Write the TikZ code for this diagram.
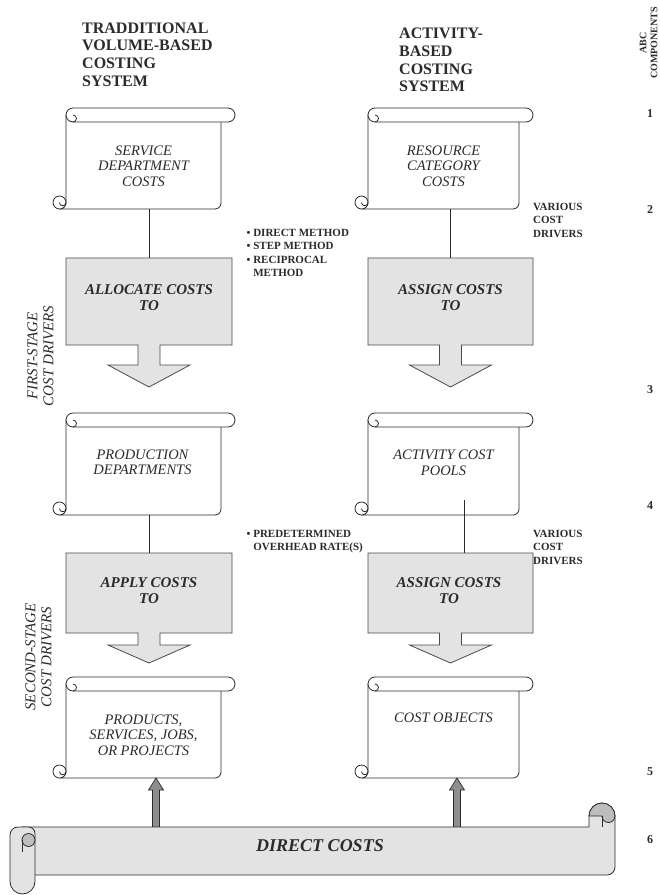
\documentclass[tikz,border=0pt]{standalone}
\usepackage{fontspec}
\setmainfont{Liberation Serif}
\usetikzlibrary{calc}
\definecolor{ink}{HTML}{2B2B2B}
\definecolor{boxfill}{HTML}{E3E3E3}
\definecolor{curlfill}{HTML}{BDBDBD}
\definecolor{upfill}{HTML}{8E8E8E}
\tikzset{
 scrl/.style={draw=ink, line width=0.8pt, fill=white, line join=round},
 ban/.style={draw=ink, line width=0.8pt, fill=boxfill, line join=round},
 callout/.style={draw=ink!85, line width=0.8pt, fill=boxfill, line join=miter},
 conn/.style={draw=ink, line width=0.8pt},
 scrolltext/.style={font=\fontsize{14.5}{15.5}\selectfont\itshape, align=center, text=ink, inner sep=0pt},
 boxtext/.style={font=\fontsize{15}{15.5}\selectfont\bfseries\itshape, align=center, text=ink, inner sep=0pt},
 header/.style={font=\fontsize{16}{17.7}\selectfont\bfseries, align=left, anchor=north west, inner sep=0pt, text=ink},
 note/.style={font=\fontsize{11}{13.5}\selectfont\bfseries, align=left, anchor=north west, inner sep=0pt, text=ink},
 num/.style={font=\fontsize{12}{14}\selectfont\bfseries, inner sep=0pt, text=ink},
 side/.style={font=\fontsize{15}{16}\selectfont\itshape, align=center, rotate=90, inner sep=0pt, text=ink},
 boxarea/.style={draw=none, fill=none, inner sep=0pt},
 uparrow/.style={draw=ink, line width=0.7pt, fill=upfill, line join=miter},
}
\newcommand{\drawscroll}[4]{%
 \pgfmathsetmacro\sxa{#1}%
 \pgfmathsetmacro\sxb{#2}%
 \pgfmathsetmacro\sxr{#2+14}%
 \pgfmathsetmacro\syt{-(#3)}%
 \pgfmathsetmacro\sym{-(#3)-7}%
 \pgfmathsetmacro\syr{-(#3)-14}%
 \pgfmathsetmacro\syb{-(#4)}%
 \pgfmathsetmacro\syc{-(#4)+6.5}%
 \draw[scrl] (\sxa,\sym) -- (\sxa,\syc) arc[start angle=0,end angle=-90,radius=6.5] -- (\sxb-6,\syb) arc[start angle=-90,end angle=0,radius=6] -- (\sxb,\sym) -- cycle;
 \draw[scrl] (\sxa-6.5,\syc) circle[radius=6.5];
 \draw[scrl, fill=none] (\sxa-6.5,\syc) arc[start angle=180,end angle=360,radius=3.25];
 \draw[scrl] (\sxa+7,\syt) -- (\sxr-7,\syt) arc[start angle=90,end angle=-90,radius=7] -- (\sxa+7,\syr) arc[start angle=270,end angle=90,radius=7] -- cycle;
 \draw[scrl, fill=none] (\sxa+7,\syr) arc[start angle=-90,end angle=90,radius=3.5];
}
\newcommand{\drawcallout}[6]{%
 \pgfmathsetmacro\cxc{(#1+#2)/2}%
 \draw[callout] (#1,-#3) -- (#2,-#3) -- (#2,-#4) -- (\cxc+11,-#4) -- (\cxc+11,-#5) -- (\cxc+41,-#5) -- (\cxc,-#6) -- (\cxc-41,-#5) -- (\cxc-11,-#5) -- (\cxc-11,-#4) -- (#1,-#4) -- cycle;
}
\newcommand{\drawuparrow}[3]{% xc, ytip, ybase
 \draw[uparrow] (#1-3.5,-#3) -- (#1-3.5,-#2-12) -- (#1-7.5,-#2-12) -- (#1,-#2) -- (#1+7.5,-#2-12) -- (#1+3.5,-#2-12) -- (#1+3.5,-#3) -- cycle;
}
\begin{document}
\begin{tikzpicture}[x=1pt,y=1pt]
\useasboundingbox (0,0) rectangle (660,-895);
\fill[white] (0,0) rectangle (660,-895);

% headers
\node[header] (hL) at (82,-22.4) {TRADDITIONAL\\VOLUME-BASED\\COSTING\\SYSTEM};
\node[header] (hR) at (399,-28) {ACTIVITY-\\BASED\\COSTING\\SYSTEM};
\node[font=\fontsize{10}{11}\selectfont\bfseries, rotate=90, align=center, inner sep=0pt, text=ink] (abc) at (648.5,-43) {ABC\\COMPONENTS};

% numbers
\node[num] (n1) at (650,-114) {1};
\node[num] (n2) at (650,-210) {2};
\node[num] (n3) at (650,-390) {3};
\node[num] (n4) at (650,-506) {4};
\node[num] (n5) at (650,-772) {5};
\node[num] (n6) at (650,-840) {6};

% side labels
\node[side] (fsd) at (40.5,-356) {FIRST-STAGE\\COST DRIVERS};
\node[side] (ssd) at (38.5,-657) {SECOND-STAGE\\COST DRIVERS};

% row 1 scrolls
\drawscroll{66}{221}{108}{209}
\drawscroll{368}{519}{108}{209}
\node[scrolltext] (s1L) at (143.5,-166) {SERVICE\\DEPARTMENT\\COSTS};
\node[scrolltext] (s1R) at (443.5,-166) {RESOURCE\\CATEGORY\\COSTS};
\coordinate (s1Lb) at (149,-209);
\coordinate (s1Rb) at (450.5,-209);

% row 1 callouts
\drawcallout{66}{232}{258}{345}{365}{387}
\drawcallout{368}{533}{258}{345}{365}{387}
\node[boxarea, minimum width=166pt, minimum height=87pt] (b1L) at (149,-301.5) {};
\node[boxarea, minimum width=165pt, minimum height=87pt] (b1R) at (450.5,-301.5) {};
\node[boxtext] (b1Lt) at (149,-297.5) {ALLOCATE COSTS\\TO};
\node[boxtext] (b1Rt) at (450.5,-297.5) {ASSIGN COSTS\\TO};
\draw[conn] (s1Lb) -- (b1L.north);
\draw[conn] (s1Rb) -- (b1R.north);

\node[note] (m1) at (246.5,-229) {• DIRECT METHOD\\• STEP METHOD\\• RECIPROCAL\\\hphantom{• }METHOD};
\node[note] (v1) at (533,-203) {VARIOUS\\COST\\DRIVERS};

% row 2 scrolls
\drawscroll{66}{221}{413}{515}
\drawscroll{368}{519}{413}{515}
\node[scrolltext] (s2L) at (142.5,-462.5) {PRODUCTION\\DEPARTMENTS};
\node[scrolltext] (s2R) at (443.5,-463) {ACTIVITY COST\\POOLS};
\coordinate (s2Lb) at (149,-515);
\coordinate (s2Rb) at (464,-500);

% row 2 callouts
\drawcallout{66}{232}{553}{633}{645}{663}
\drawcallout{368}{533}{553}{633}{645}{663}
\node[boxarea, minimum width=166pt, minimum height=80pt] (b2L) at (149,-593) {};
\node[boxarea, minimum width=165pt, minimum height=80pt] (b2R) at (450.5,-593) {};
\node[boxtext] (b2Lt) at (149,-590.5) {APPLY COSTS\\TO};
\node[boxtext] (b2Rt) at (449,-590.5) {ASSIGN COSTS\\TO};
\draw[conn] (s2Lb) -- (b2L.north);
\draw[conn] (s2Rb) -- (s2Rb |- b2R.north);

\node[note] (m2) at (246.5,-530) {• PREDETERMINED\\\hphantom{• }OVERHEAD RATE(S)};
\node[note] (v2) at (533,-530) {VARIOUS\\COST\\DRIVERS};

% row 3 scrolls
\drawscroll{66}{221}{677}{778}
\drawscroll{368}{519}{677}{778}
\node[scrolltext] (s3L) at (143.5,-735) {PRODUCTS,\\SERVICES, JOBS,\\OR PROJECTS};
\node[scrolltext] (s3R) at (443.5,-718) {COST OBJECTS};

% up arrows
\drawuparrow{156}{778}{828}
\drawuparrow{457}{778}{828}

% banner
\draw[ban] (22,-827) -- (589,-827) -- (589,-816) arc[start angle=180,end angle=0,radius=13] -- (615,-867) arc[start angle=0,end angle=-90,radius=8] -- (22,-875) -- cycle;
\draw[ban, fill=curlfill] (589,-816) arc[start angle=180,end angle=0,radius=13] arc[start angle=0,end angle=-180,radius=6.5] -- cycle;
\draw[ban, fill=none] (602,-816) -- (602,-827);
\draw[ban] (10,-881.5) -- (10,-835) arc[start angle=180,end angle=90,radius=8] -- (28.5,-827) arc[start angle=90,end angle=0,radius=6.5] -- (35,-881.5) arc[start angle=0,end angle=-180,radius=12.5] -- cycle;
\draw[ban, fill=curlfill] (28.5,-840) circle[radius=6.5];
\draw[ban, fill=none] (22,-840) -- (22,-852);
\node[font=\fontsize{18}{20}\selectfont\bfseries\itshape, inner sep=0pt, text=ink] (dc) at (320,-846) {DIRECT COSTS};
\end{tikzpicture}
\end{document}
